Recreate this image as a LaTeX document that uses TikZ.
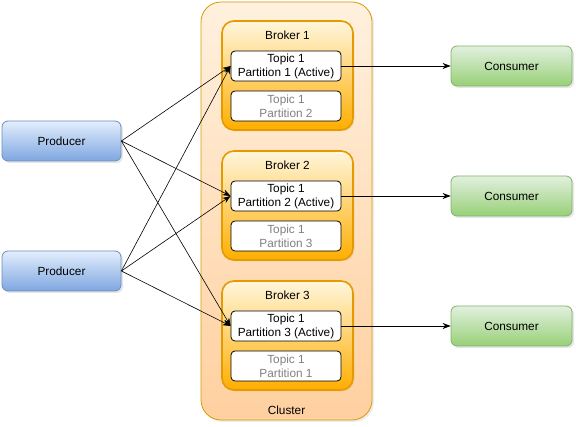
\documentclass[tikz,border=0pt]{standalone}
\usepackage{fontspec}
\setmainfont{Liberation Sans}
\usetikzlibrary{arrows.meta,shadows}
\definecolor{clFillTop}{HTML}{FFF1DE}
\definecolor{clFillBot}{HTML}{FFD0A0}
\definecolor{clLine}{HTML}{D79B00}
\definecolor{brTop}{HTML}{FFF6DC}
\definecolor{brOrange}{HTML}{FFAE00}
\definecolor{brLine}{HTML}{E59A00}
\definecolor{prTop}{HTML}{E3EEFD}
\definecolor{prBot}{HTML}{7EA6E0}
\definecolor{prLine}{HTML}{6C8EBF}
\definecolor{coTop}{HTML}{E2F0DF}
\definecolor{coBot}{HTML}{97D077}
\definecolor{coLine}{HTML}{82B366}
\definecolor{passive}{HTML}{808080}
\tikzset{
  every node/.style={font=\fontsize{11.8}{14}\selectfont, align=center, inner sep=0pt},
  cluster/.style={rectangle, rounded corners=20pt, draw=clLine, line width=0.8pt,
    top color=clFillTop, bottom color=clFillBot, minimum width=171pt, minimum height=418pt,
    drop shadow={shadow xshift=2pt, shadow yshift=-2pt, opacity=0.15}},
  broker/.style={rectangle, rounded corners=12pt, draw=brLine, line width=1.6pt,
    top color=brTop, middle color=brOrange, bottom color=brOrange,
    minimum width=131pt, minimum height=109pt,
    drop shadow={shadow xshift=1.5pt, shadow yshift=-1.5pt, opacity=0.12}},
  topicbox/.style={rectangle, rounded corners=4pt, draw=black, line width=0.8pt, fill=white,
    minimum width=110pt, minimum height=30pt},
  passivebox/.style={topicbox, text=passive},
  producer/.style={rectangle, rounded corners=6pt, draw=prLine, line width=0.8pt,
    top color=prTop, bottom color=prBot, minimum width=119pt, minimum height=40pt,
    drop shadow={shadow xshift=2pt, shadow yshift=-2pt, opacity=0.2}},
  consumer/.style={rectangle, rounded corners=6pt, draw=coLine, line width=0.8pt,
    top color=coTop, bottom color=coBot, minimum width=121pt, minimum height=40pt,
    drop shadow={shadow xshift=2pt, shadow yshift=-2pt, opacity=0.2}},
  conn/.style={draw=black, line width=0.6pt, -{Stealth[length=8pt,width=6pt]}}
}
\begin{document}
\begin{tikzpicture}[x=1pt,y=-1pt]
\useasboundingbox (0,0) rectangle (576,427);
\node[cluster] (cluster) at (286.5,211) {};
\node (clusterlabel) at (286.5,410) {Cluster};

\node[broker] (b1) at (287.5,75.5) {};
\node[broker] (b2) at (287.5,205.5) {};
\node[broker] (b3) at (287.5,335.5) {};
\node (b1l) at (287.5,35) {Broker 1};
\node (b2l) at (287.5,165) {Broker 2};
\node (b3l) at (287.5,295) {Broker 3};

\node[topicbox] (t1) at (286,66) {Topic 1\\Partition 1 (Active)};
\node[passivebox] (p1) at (286,106) {Topic 1\\Partition 2};
\node[topicbox] (t2) at (286,196) {Topic 1\\Partition 2 (Active)};
\node[passivebox] (p2) at (286,236) {Topic 1\\Partition 3};
\node[topicbox] (t3) at (286,326) {Topic 1\\Partition 3 (Active)};
\node[passivebox] (p3) at (286,366) {Topic 1\\Partition 1};

\node[producer] (pr1) at (61.5,141) {Producer};
\node[producer] (pr2) at (61.5,271) {Producer};

\node[consumer] (c1) at (511.5,66) {Consumer};
\node[consumer] (c2) at (511.5,196) {Consumer};
\node[consumer] (c3) at (511.5,326) {Consumer};

\foreach \p in {pr1,pr2}{
  \foreach \t in {t1,t2,t3}{
    \draw[conn] (\p.east) -- (\t.west);
  }
}
\draw[conn] (t1.east) -- (c1.west);
\draw[conn] (t2.east) -- (c2.west);
\draw[conn] (t3.east) -- (c3.west);
\end{tikzpicture}
\end{document}
